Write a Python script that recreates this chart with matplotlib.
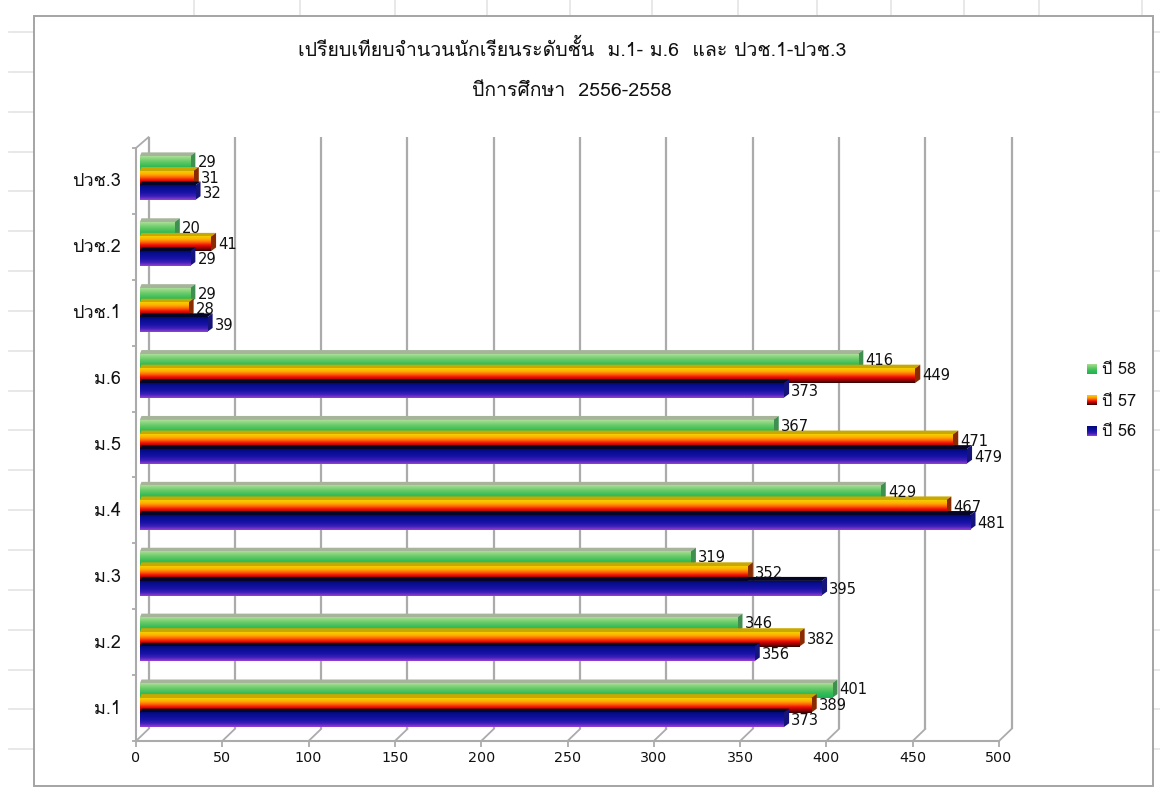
import matplotlib
matplotlib.use('Agg')
import matplotlib.pyplot as plt
from matplotlib.patches import Polygon, Rectangle
from matplotlib.colors import LinearSegmentedColormap
import numpy as np

W, H = 1160, 787
THAI = ['Loma', 'Noto Sans Thai Looped', 'DejaVu Sans']
NUM = ['DejaVu Sans']

categories = ['ม.1', 'ม.2', 'ม.3', 'ม.4', 'ม.5', 'ม.6', 'ปวช.1', 'ปวช.2', 'ปวช.3']
y56 = [373, 356, 395, 481, 479, 373, 39, 29, 32]
y57 = [389, 382, 352, 467, 471, 449, 28, 41, 31]
y58 = [401, 346, 319, 429, 367, 416, 29, 20, 29]
series_names = ['ปี 56', 'ปี 57', 'ปี 58']
title1 = 'เปรียบเทียบจำนวนนักเรียนระดับชั้น  ม.1- ม.6  และ ปวช.1-ปวช.3'
title2 = 'ปีการศึกษา  2556-2558'
xticks = [0, 50, 100, 150, 200, 250, 300, 350, 400, 450, 500]

# plot-box geometry in reference pixels
X0, X1, Y_BOT, Y_TOP = 136.0, 999.0, 741.0, 148.0
WALL_DX, WALL_DY = 12.5, 12.0
BAR_START = 3.8
BAR_DX, BAR_DY = 5.5, 4.0
BAR_H_PX = 14.6

GRID = '#ababab'
STUB = '#e6e6e6'
FRAME = '#a4a4a4'
TEXT = '#111111'

fig = plt.figure(figsize=(W / 100, H / 100), dpi=100, facecolor='white')

# full-figure pixel layer for the sheet and frame
bg = fig.add_axes([0, 0, 1, 1], zorder=0)
bg.set_xlim(0, W); bg.set_ylim(H, 0); bg.axis('off')
for x in [194, 300, 395, 487, 570, 652, 738, 817, 891, 964, 1039, 1142]:
    bg.plot([x, x], [0, 16], color=STUB, lw=1.3)
for y in np.arange(32, 780, 39.85):
    bg.plot([9, 33], [y, y], color=STUB, lw=1.3)
    bg.plot([1153, 1160], [y, y], color=STUB, lw=1.3)
bg.add_patch(Rectangle((33.5, 16), 1119.5, 770, fc='white', ec=FRAME, lw=1.4, zorder=3))

ax = fig.add_axes([X0 / W, 1 - Y_BOT / H, (X1 - X0) / W, (Y_BOT - Y_TOP) / H], zorder=1)
ax.patch.set_alpha(0)
ax.set_xlim(0, 500)
ax.set_ylim(0, len(categories))
ux = 500 / (X1 - X0)           # data units per pixel
uy = len(categories) / (Y_BOT - Y_TOP)

for s in ['top', 'right']:
    ax.spines[s].set_visible(False)
for s in ['left', 'bottom']:
    ax.spines[s].set_color(GRID)
    ax.spines[s].set_linewidth(1.5)

ax.set_xticks(xticks)
ax.set_xticklabels([str(t) for t in xticks], family=NUM, fontsize=10.3, color=TEXT)
ax.set_yticks(np.arange(len(categories) + 1))
ax.set_yticklabels([])
ax.tick_params(axis='x', length=4, width=1.3, color=GRID, pad=3)
ax.tick_params(axis='y', length=3, width=1.3, color=GRID)

# back wall gridlines and floor/side connectors
ymax = len(categories)
for t in xticks:
    ax.plot([t + WALL_DX * ux] * 2, [WALL_DY * uy, ymax + WALL_DY * uy * 0.9],
            color=GRID, lw=1.6, clip_on=False, zorder=1, solid_capstyle='butt')
    ax.plot([t, t + WALL_DX * ux], [0, WALL_DY * uy], color=GRID, lw=1.3, clip_on=False, zorder=1)
ax.plot([0, WALL_DX * ux], [ymax, ymax + WALL_DY * uy * 0.9], color=GRID, lw=1.3, clip_on=False, zorder=1)

green = LinearSegmentedColormap.from_list('g', ['#a9de96', '#6ccb6a', '#35bc58', '#1db34f'])
fire = LinearSegmentedColormap.from_list('f', ['#f4cf00', '#ffb000', '#ff6a00', '#f01000', '#a00000', '#300000'])
navy = LinearSegmentedColormap.from_list('b', ['#020a78', '#0a0f96', '#1a12a8', '#3a1fb8', '#9a3fd0'])
styles = {
    'ปี 58': (green, '#a6b59a', '#3f8f50'),
    'ปี 57': (fire, '#c9a800', '#8a2a00'),
    'ปี 56': (navy, '#050528', '#14147a'),
}
grad = np.linspace(0, 1, 64).reshape(-1, 1)


def draw_bar(v, ybot, name, z):
    cmap, top_c, side_c = styles[name]
    h = BAR_H_PX * uy
    x0 = BAR_START * ux
    x1 = x0 + v
    dx, dy = BAR_DX * ux, BAR_DY * uy
    ax.imshow(grad, extent=(x0, x1, ybot, ybot + h), aspect='auto', cmap=cmap,
              origin='upper', zorder=z, interpolation='bilinear', clip_on=False)
    ax.add_patch(Polygon([(x0, ybot + h), (x1, ybot + h), (x1 + dx, ybot + h + dy), (x0 + dx * 0.3, ybot + h + dy)],
                         closed=True, fc=top_c, ec='none', zorder=z - 0.1, clip_on=False))
    ax.add_patch(Polygon([(x1, ybot), (x1 + dx, ybot + dy), (x1 + dx, ybot + h + dy), (x1, ybot + h)],
                         closed=True, fc=side_c, ec='none', zorder=z - 0.1, clip_on=False))


order = [('ปี 56', y56), ('ปี 57', y57), ('ปี 58', y58)]
OFF = 13.7 * uy  # bar group bottom above the slot floor
for i in range(len(categories)):
    for j, (name, vals) in enumerate(order):
        yb = i + OFF + j * BAR_H_PX * uy
        z = 10 - j * 2
        draw_bar(vals[i], yb, name, z)
        ax.text(vals[i] + 11.5 * ux, yb + BAR_H_PX * uy * 0.44 + j * 1.0 * uy, str(vals[i]),
                family=NUM, fontsize=10.6, color=TEXT, va='center', ha='left', zorder=20)
    ax.text(-15 * ux, i + 0.5 - 0.5 * uy, categories[i], family=THAI, fontsize=13, color=TEXT,
            va='center', ha='right', zorder=20)

ax.set_xlim(0, 500)
ax.set_ylim(0, len(categories))

# titles
bg2 = fig.add_axes([0, 0, 1, 1], zorder=2)
bg2.set_xlim(0, W); bg2.set_ylim(H, 0); bg2.axis('off'); bg2.patch.set_alpha(0)
bg2.text(572.5, 49.5, title1, family=THAI, fontsize=14.05, color=TEXT, ha='center', va='center')
bg2.text(572, 91.5, title2, family=THAI, fontsize=14, color=TEXT, ha='center', va='center')

# legend
for yy, name in zip([431, 400, 369], series_names):
    cmap = styles[name][0]
    bg2.imshow(grad, extent=(1087, 1097, yy + 5, yy - 5), aspect='auto', cmap=cmap, origin='upper',
               interpolation='bilinear')
    bg2.text(1102, yy + 1.5, name, family=THAI, fontsize=11.8, color=TEXT, ha='left', va='center')
bg2.set_xlim(0, W); bg2.set_ylim(H, 0)

fig.savefig('out.png', dpi=100, facecolor='white')
